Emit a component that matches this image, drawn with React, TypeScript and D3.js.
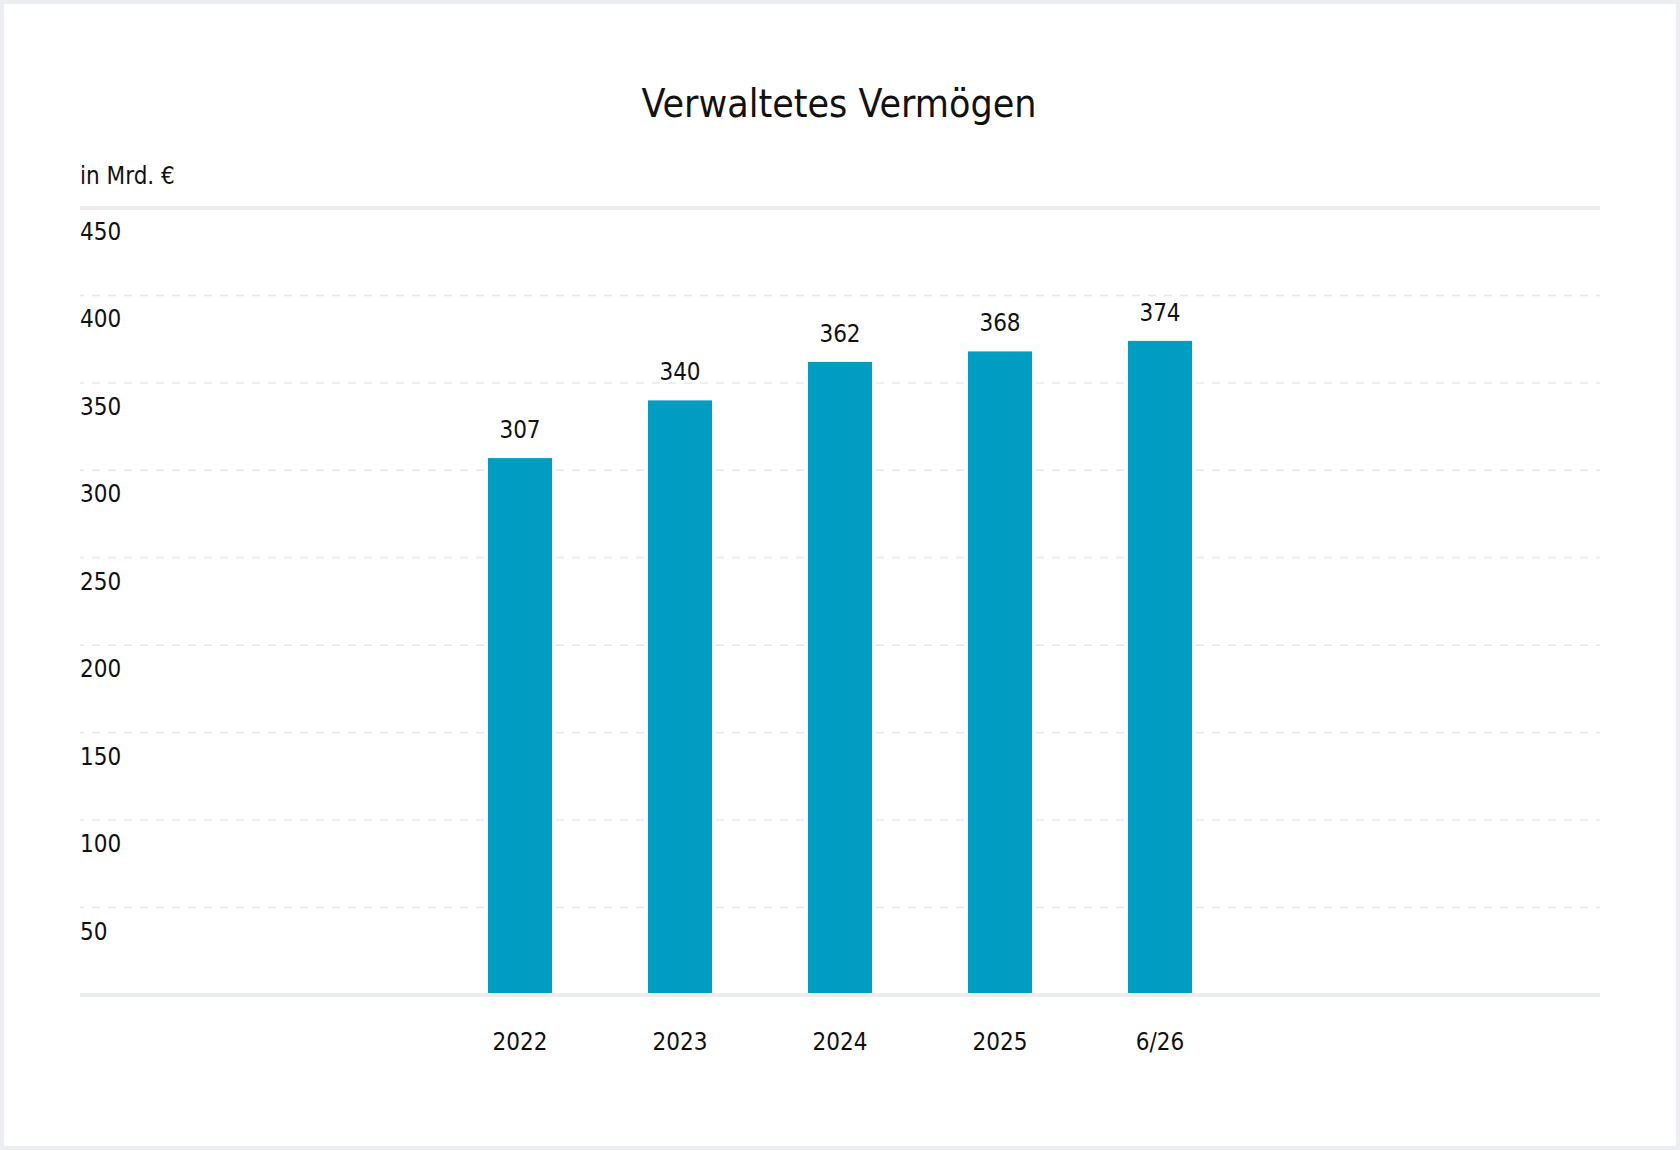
import React, { useEffect, useRef } from 'react';
import * as d3 from 'd3';

// chart data
const categories = ['2022', '2023', '2024', '2025', '6/26'];
const values = [307, 340, 362, 368, 374];
const yTicks = [50, 100, 150, 200, 250, 300, 350, 400, 450];

const W = 1680;
const H = 1150;
const FONT = '"DejaVu Sans Condensed", "Liberation Sans Narrow", sans-serif';

const App: React.FC = () => {
  const svgRef = useRef<SVGSVGElement>(null);

  useEffect(() => {
    if (!svgRef.current) return;
    const svg = d3.select(svgRef.current);
    svg.selectAll('*').remove();

    const left = 80;
    const right = 1600;
    const top = 208;
    const bottom = 995;

    // frame
    svg.append('rect').attr('width', W).attr('height', H).attr('fill', '#ebedf0');
    svg.append('rect')
      .attr('x', 4).attr('y', 4)
      .attr('width', W - 8).attr('height', H - 8)
      .attr('fill', '#ffffff');

    // title + unit
    svg.append('text')
      .attr('x', 839).attr('y', 117)
      .attr('text-anchor', 'middle')
      .attr('font-family', FONT)
      .attr('font-size', 39)
      .attr('fill', '#111111')
      .text('Verwaltetes Vermögen');

    svg.append('text')
      .attr('x', left).attr('y', 184)
      .attr('font-family', FONT)
      .attr('font-size', 24)
      .attr('fill', '#111111')
      .text('in Mrd. €');

    const x = d3.scaleBand<string>()
      .domain(categories)
      .range([left, right])
      .paddingInner(0.6)
      .paddingOuter(2.55);

    const y = d3.scaleLinear().domain([0, 450]).range([bottom, top]);

    // dashed gridlines (the top one is solid)
    svg.append('g')
      .selectAll('line')
      .data(yTicks.filter(t => t < 450))
      .enter()
      .append('line')
      .attr('x1', left).attr('x2', right)
      .attr('y1', d => y(d)).attr('y2', d => y(d))
      .attr('stroke', '#e6e7e9')
      .attr('stroke-width', 1.5)
      .attr('stroke-dasharray', '8 8')
      .attr('stroke-dashoffset', 4);

    // solid top and base lines
    [450, 0].forEach(v => {
      svg.append('line')
        .attr('x1', left).attr('x2', right)
        .attr('y1', y(v)).attr('y2', y(v))
        .attr('stroke', '#ebecee')
        .attr('stroke-width', 4);
    });

    // y tick labels, below their gridline
    svg.append('g')
      .selectAll('text')
      .data(yTicks)
      .enter()
      .append('text')
      .attr('x', left)
      .attr('y', d => y(d) + 32)
      .attr('font-family', FONT)
      .attr('font-size', 24)
      .attr('fill', '#111111')
      .text(d => d);

    // bars
    svg.append('g')
      .selectAll('rect')
      .data(values)
      .enter()
      .append('rect')
      .attr('x', (_, i) => x(categories[i]) || 0)
      .attr('y', d => y(d))
      .attr('width', x.bandwidth())
      .attr('height', d => y(0) - 2 - y(d))
      .attr('fill', '#009cc2');

    // value labels
    svg.append('g')
      .selectAll('text')
      .data(values)
      .enter()
      .append('text')
      .attr('x', (_, i) => (x(categories[i]) || 0) + x.bandwidth() / 2)
      .attr('y', d => y(d) - 20)
      .attr('text-anchor', 'middle')
      .attr('font-family', FONT)
      .attr('font-size', 24)
      .attr('fill', '#111111')
      .text(d => d);

    // x labels
    svg.append('g')
      .selectAll('text')
      .data(categories)
      .enter()
      .append('text')
      .attr('x', d => (x(d) || 0) + x.bandwidth() / 2)
      .attr('y', 1050)
      .attr('text-anchor', 'middle')
      .attr('font-family', FONT)
      .attr('font-size', 24)
      .attr('fill', '#111111')
      .text(d => d);
  }, []);

  return (
    <svg
      ref={svgRef}
      width={W}
      height={H}
      viewBox={`0 0 ${W} ${H}`}
      style={{ position: 'absolute', left: 0, top: 0, display: 'block' }}
    />
  );
};

export default App;
